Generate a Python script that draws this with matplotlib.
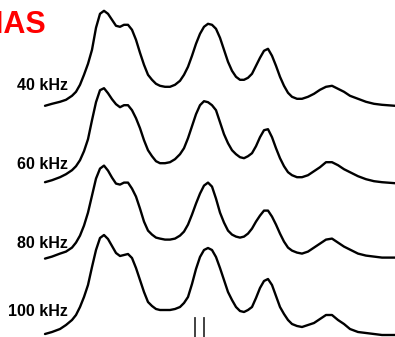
import matplotlib
matplotlib.use("Agg")
import matplotlib.pyplot as plt

# shared chemical-shift axis (arbitrary units, left to right as drawn)
shift = [45, 52, 60, 66, 72, 76, 80, 84, 88, 92,
         96, 100, 104, 108, 112, 116, 120, 124, 128, 132,
         136, 140, 144, 148, 152, 156, 160, 165, 170, 175,
         180, 184, 188, 192, 196, 200, 204, 208, 212, 216,
         220, 224, 228, 232, 236, 240, 244, 248, 252, 256,
         260, 264, 268, 272, 276, 280, 284, 288, 292, 297,
         302, 308, 314, 320, 326, 332, 338, 344, 350, 358,
         366, 374, 382, 395]

spec_40 = [0, 2, 4, 6, 10, 14, 21, 31, 42, 56,
           78, 92, 95, 92, 86, 80, 79, 81, 81, 76,
           66, 53, 41, 31, 26, 22, 20, 19, 19, 21,
           25, 31, 39, 50, 62, 72, 79, 82, 81, 77,
           68, 56, 44, 35, 29, 26, 26, 28, 32, 40,
           48, 55, 57, 50, 40, 29, 20, 13, 9, 7,
           7, 9, 12, 16, 19, 20, 17, 14, 10, 7,
           4, 2, 1, 0]
spec_60 = [0, 2, 5, 8, 12, 16, 22, 31, 43, 62,
           80, 92, 94, 89, 83, 78, 75, 77, 77, 72,
           64, 54, 42, 32, 26, 21, 19, 19, 20, 23,
           28, 34, 44, 56, 68, 77, 81, 80, 77, 72,
           60, 48, 39, 32, 28, 25, 24, 26, 29, 36,
           45, 52, 53, 45, 34, 24, 16, 10, 7, 5,
           5, 7, 11, 15, 20, 20, 17, 13, 10, 6,
           3, 1, 0, -1]
spec_80 = [0, 2, 5, 7, 11, 16, 23, 33, 46, 63,
           80, 90, 93, 88, 81, 75, 74, 76, 76, 70,
           62, 50, 37, 28, 24, 21, 20, 19, 19, 20,
           23, 27, 34, 44, 55, 65, 73, 76, 72, 60,
           46, 36, 28, 24, 22, 21, 22, 25, 30, 37,
           43, 48, 48, 42, 34, 25, 17, 11, 8, 6,
           5, 7, 11, 15, 19, 20, 16, 12, 9, 5,
           3, 2, 1, 1]
spec_100 = [1, 3, 6, 10, 15, 20, 28, 38, 50, 68,
            85, 97, 100, 96, 89, 82, 79, 80, 81, 77,
            67, 55, 43, 33, 29, 26, 25, 25, 25, 26,
            28, 32, 38, 51, 66, 78, 85, 87, 85, 78,
            67, 55, 43, 35, 28, 24, 23, 25, 28, 37,
            47, 54, 56, 50, 39, 28, 21, 15, 11, 9,
            8, 10, 12, 16, 20, 20, 15, 11, 6, 3,
            2, 1, 0, 0]

spectra = [spec_40, spec_60, spec_80, spec_100]
labels = ["40 kHz", "60 kHz", "80 kHz", "100 kHz"]

fig = plt.figure(figsize=(3.95, 3.37), dpi=100)
ax = fig.add_axes([0, 0, 1, 1])
ax.set_xlim(0, 395)
ax.set_ylim(0, 337)
ax.axis("off")

step = 76.4
label_lift = [20, 18, 15, 23]
for i, (spec, lab) in enumerate(zip(spectra, labels)):
    base = 2 + step * (len(spectra) - 1 - i)
    ax.plot(shift, [base + v for v in spec], color="black", lw=1.7,
            solid_joinstyle="round", solid_capstyle="round")
    ax.text(68, base + label_lift[i], lab, ha="right", va="center",
            fontsize=11.5, fontweight="bold", family="Liberation Sans")

# small reference marks under the second peak
for xm in (195, 204):
    ax.plot([xm, xm], [0, 19], color="#333333", lw=1.3)

# title is cut off by the left edge in the original figure
ax.text(46, 312, "MAS", ha="right", va="center", color="#ff0000",
        fontsize=22, fontweight="bold", family="Liberation Sans")

fig.savefig("out.png", dpi=100)
